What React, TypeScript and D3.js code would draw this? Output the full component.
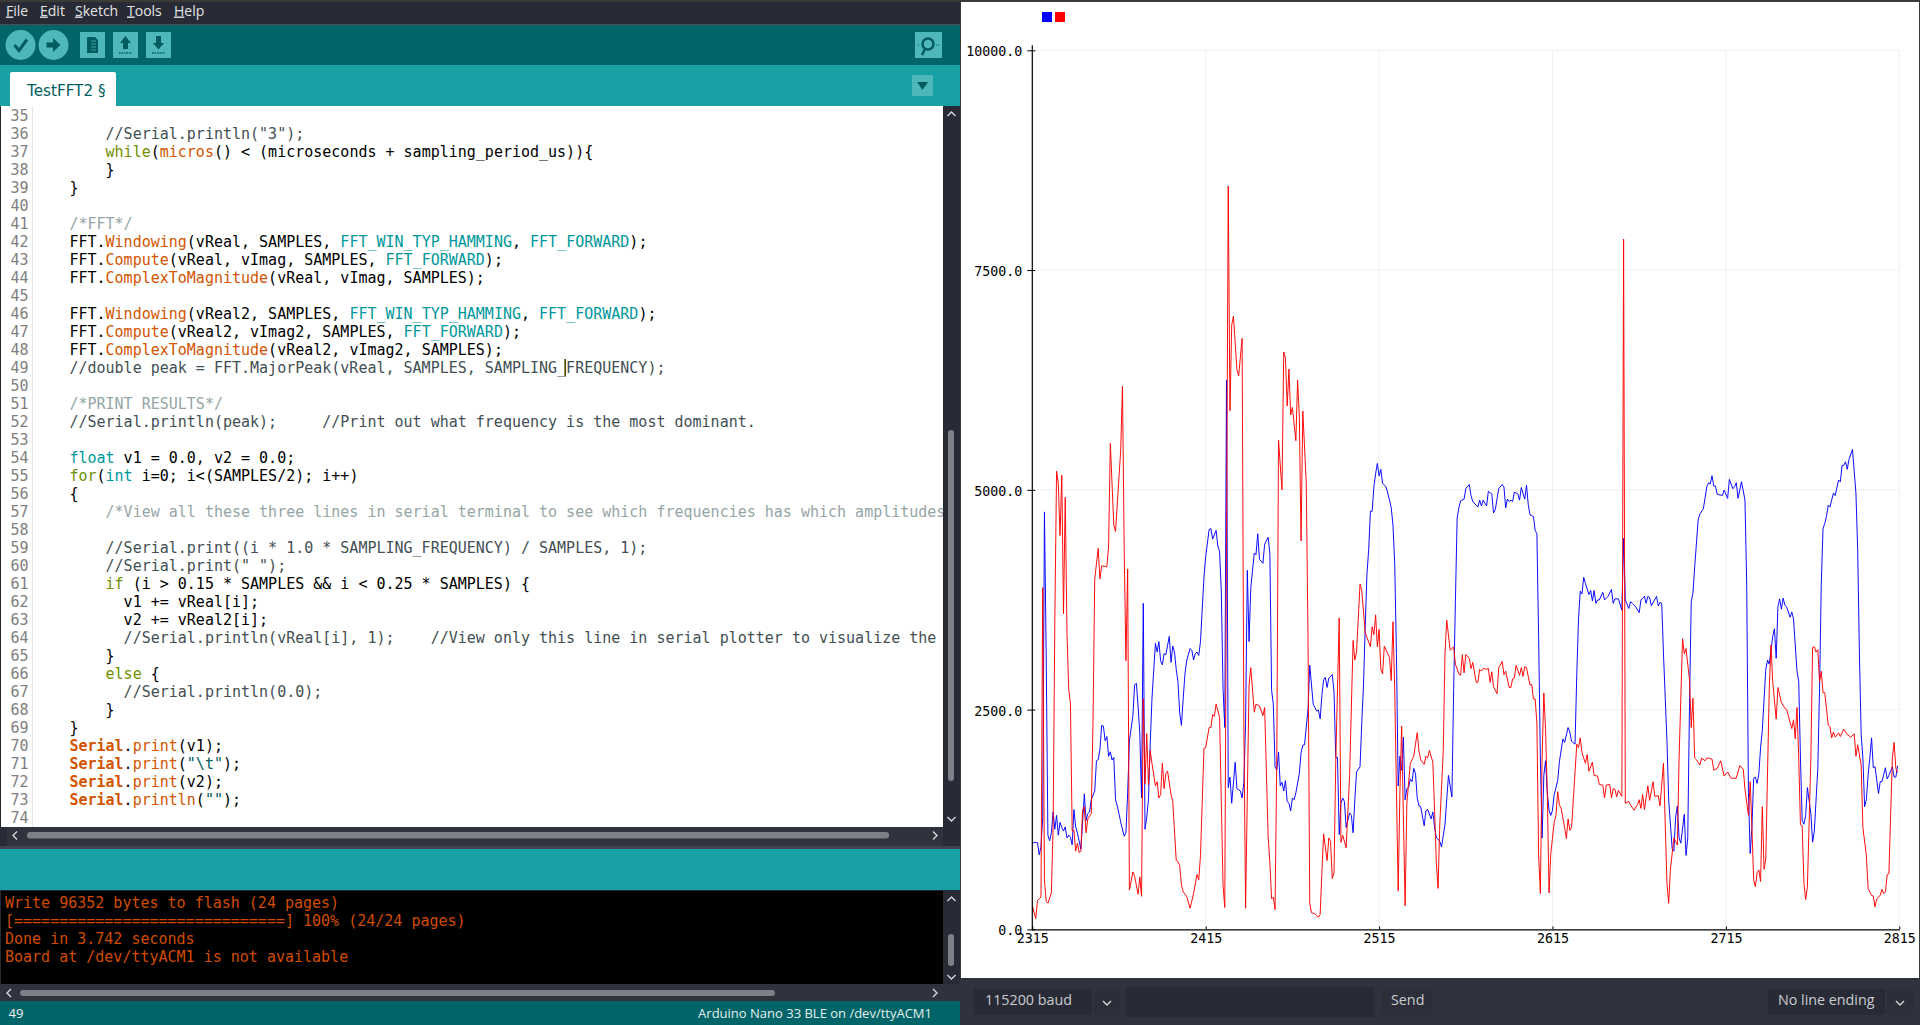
import React, { useEffect, useRef } from 'react'
import * as d3 from 'd3'

type Sample = [number, number]

const xTicks = [2315, 2415, 2515, 2615, 2715, 2815]
const yTicks = [0, 2500, 5000, 7500, 10000]
const seriesColors = ['#0000ff', '#ff0000']

// [sample number, value]
const blueSeries: Sample[] = [
  [2315,970],[2316,992],[2318,985],[2319,850],[2320,941],[2321,1277],[2322,4749],[2323,3136],[2324,1072],[2325,1008],
  [2326,1099],[2327,1336],[2328,1139],[2329,1297],[2330,1072],[2331,1218],[2332,1159],[2333,1119],[2334,1166],[2335,1040],
  [2336,1072],[2337,1048],[2338,961],[2339,1364],[2340,1166],[2341,1099],[2343,913],[2344,1218],[2345,1542],[2346,1238],
  [2347,1317],[2348,1336],[2349,1475],[2351,1574],[2352,1918],[2353,1930],[2354,2048],[2355,2321],[2356,2313],[2357,2147],
  [2358,2194],[2359,1969],[2360,2020],[2361,1926],[2362,1957],[2363,1475],[2364,1404],[2365,1317],[2366,1218],[2368,1060],
  [2369,1099],[2370,1554],[2371,2147],[2373,2424],[2374,2780],[2375,2800],[2376,2542],[2377,2226],[2378,1495],[2379,3709],
  [2380,1139],[2381,1277],[2382,1475],[2383,2107],[2384,2622],[2385,2938],[2386,3254],[2387,3155],[2388,3274],[2389,3056],
  [2390,3009],[2391,3136],[2392,3124],[2394,3333],[2395,3037],[2396,3223],[2397,3155],[2398,2958],[2399,2819],[2400,2463],
  [2401,2321],[2402,2622],[2403,2898],[2404,3056],[2406,3195],[2407,3175],[2408,3064],[2409,3136],[2410,3155],[2411,3116],
  [2412,3274],[2414,4005],[2415,4243],[2417,4551],[2418,4559],[2419,4440],[2421,4539],[2422,4361],[2423,4302],[2424,3847],
  [2425,2740],[2426,2297],[2427,6250],[2428,1613],[2429,1732],[2430,1435],[2432,1902],[2433,1601],[2435,1574],[2436,1495],
  [2437,1673],[2438,2345],[2439,4085],[2440,3274],[2441,3887],[2443,4282],[2444,4262],[2445,4500],[2446,4211],[2448,4164],
  [2449,4381],[2451,4460],[2452,4282],[2453,2720],[2454,2562],[2455,1850],[2456,1811],[2457,2017],[2458,1633],[2459,1673],
  [2460,1574],[2461,1692],[2462,1455],[2463,1435],[2464,1348],[2465,1495],[2466,1475],[2467,1554],[2469,1771],[2470,2009],
  [2471,2096],[2472,2100],[2474,2503],[2475,3005],[2477,2562],[2479,2483],[2480,2495],[2481,2396],[2482,2661],[2483,2839],
  [2484,2867],[2485,2752],[2486,2859],[2488,2898],[2489,2701],[2490,1957],[2491,1957],[2492,1079],[2493,1435],[2494,1495],
  [2495,1455],[2496,1159],[2498,1325],[2499,1297],[2500,1099],[2501,1475],[2502,1791],[2504,1850],[2505,2345],[2506,2780],
  [2507,3452],[2508,4045],[2509,4322],[2510,4757],[2511,4757],[2512,5036],[2513,5187],[2514,5301],[2515,5157],[2516,5233],
  [2517,5074],[2519,5036],[2521,4884],[2522,4796],[2523,4598],[2524,4164],[2525,3136],[2526,1633],[2527,1969],[2528,1811],
  [2529,2187],[2530,1475],[2531,1601],[2532,1613],[2533,1712],[2534,1680],[2535,1831],[2536,1771],[2537,1495],[2538,1404],
  [2539,1396],[2541,1178],[2542,1348],[2543,1364],[2545,1257],[2546,1336],[2547,1159],[2548,1048],[2550,1000],[2551,937],
  [2553,1198],[2554,1475],[2555,1752],[2557,1506],[2558,2740],[2559,3729],[2560,4678],[2561,4796],[2562,4875],[2564,4895],
  [2565,5014],[2567,5061],[2568,4935],[2569,4867],[2572,4804],[2573,4883],[2574,4816],[2575,4883],[2577,4816],[2578,4982],
  [2580,4954],[2581,4737],[2582,4776],[2584,5014],[2586,5061],[2587,5033],[2588,4796],[2589,4895],[2590,4867],[2591,4883],
  [2592,4867],[2593,4974],[2595,4954],[2596,4883],[2597,5026],[2599,4895],[2600,5053],[2601,4836],[2602,4717],[2604,4697],
  [2605,4539],[2606,4500],[2607,3333],[2608,1949],[2609,1040],[2610,1752],[2611,1918],[2612,1554],[2613,1356],[2614,1297],
  [2615,1356],[2616,1534],[2618,1692],[2619,1910],[2621,2167],[2622,2127],[2624,2297],[2625,2246],[2626,2139],[2628,2107],
  [2629,2898],[2630,3531],[2631,3847],[2632,3816],[2633,4005],[2634,3934],[2636,3808],[2637,3855],[2638,3737],[2639,3855],
  [2640,3709],[2641,3748],[2642,3748],[2644,3835],[2645,3748],[2647,3788],[2649,3867],[2650,3709],[2651,3760],[2653,3760],
  [2655,3630],[2656,4448],[2657,3748],[2659,3650],[2660,3729],[2661,3709],[2663,3669],[2665,3602],[2666,3748],[2668,3788],
  [2669,3709],[2670,3788],[2671,3776],[2672,3681],[2675,3788],[2676,3681],[2677,3721],[2678,3709],[2679,3136],[2681,2147],
  [2682,1475],[2684,921],[2685,890],[2686,1277],[2687,1404],[2688,1040],[2689,981],[2691,1309],[2692,842],[2693,1040],
  [2694,2542],[2695,3729],[2696,3827],[2697,4124],[2699,4658],[2700,4725],[2702,4784],[2704,5036],[2705,5081],[2706,5066],
  [2707,5161],[2708,5043],[2709,5043],[2710,4948],[2713,4937],[2714,4998],[2716,4903],[2717,5119],[2719,5013],[2720,5036],
  [2721,5081],[2722,4903],[2724,5092],[2726,4884],[2727,3926],[2728,1554],[2729,862],[2730,1159],[2731,1720],[2732,1732],
  [2733,1661],[2734,1771],[2735,2068],[2736,2266],[2738,2958],[2739,3064],[2740,3017],[2742,3333],[2743,3420],[2744,3084],
  [2745,3669],[2746,3760],[2747,3642],[2748,3768],[2749,3689],[2750,3669],[2752,3551],[2753,3610],[2754,3531],[2756,2938],
  [2757,2819],[2758,1949],[2759,1238],[2760,1198],[2761,1297],[2762,1613],[2764,1317],[2765,992],[2766,1119],[2768,1831],
  [2769,2740],[2770,3926],[2771,4559],[2772,4618],[2773,4697],[2774,4824],[2775,4804],[2776,4883],[2777,4962],[2778,4935],
  [2780,5112],[2781,5092],[2782,5278],[2783,5278],[2784,5320],[2785,5233],[2786,5347],[2788,5460],[2790,4960],[2791,4322],
  [2792,3136],[2793,2226],[2794,1949],[2795,1396],[2796,1475],[2797,1752],[2798,1949],[2799,2179],[2800,1839],[2801,1850],
  [2803,1546],[2804,1680],[2805,1680],[2807,1839],[2808,1712],[2809,1752],[2811,1850],[2812,1732],[2813,1732],[2814,1862],
]

const redSeries: Sample[] = [
  [2315,269],[2317,123],[2318,328],[2320,368],[2321,3887],[2322,565],[2323,320],[2324,297],[2326,415],[2327,1159],
  [2328,3531],[2329,5214],[2330,5074],[2331,4480],[2332,5168],[2333,3590],[2334,4915],[2335,3373],[2336,2740],[2337,2562],
  [2338,1119],[2339,1127],[2340,890],[2341,981],[2342,874],[2343,890],[2344,1356],[2345,1396],[2346,1099],[2347,1257],
  [2349,1317],[2350,2345],[2351,3986],[2353,4334],[2354,3986],[2355,4136],[2358,4124],[2359,4361],[2360,5529],[2362,4598],
  [2363,4527],[2366,5453],[2367,6181],[2368,4322],[2369,3056],[2370,4100],[2371,447],[2373,652],[2374,605],[2376,399],
  [2377,597],[2378,376],[2379,2622],[2380,1653],[2381,2226],[2382,1641],[2383,2036],[2384,1890],[2386,1633],[2387,1680],
  [2388,1495],[2389,1534],[2390,1890],[2391,1601],[2392,1771],[2393,1799],[2395,1534],[2396,1455],[2398,783],[2399,771],
  [2400,724],[2401,506],[2402,427],[2404,376],[2406,241],[2408,407],[2410,625],[2411,565],[2412,842],[2414,2060],
  [2415,2068],[2417,2297],[2418,2297],[2419,2444],[2420,2424],[2421,2562],[2423,2412],[2425,506],[2426,249],[2428,8456],
  [2429,5900],[2430,6875],[2431,6977],[2433,6370],[2434,6295],[2436,6723],[2437,2345],[2438,241],[2440,2780],[2441,2977],
  [2443,2471],[2444,2562],[2446,2542],[2448,2432],[2449,2523],[2451,1060],[2452,763],[2453,348],[2454,368],[2455,225],
  [2456,1949],[2457,5567],[2459,5000],[2460,6568],[2461,6496],[2462,5953],[2463,6374],[2464,5851],[2465,5938],[2467,5559],
  [2468,6249],[2469,5832],[2470,4420],[2471,5896],[2473,5074],[2474,3333],[2475,297],[2476,190],[2478,178],[2480,138],
  [2481,170],[2482,645],[2483,1087],[2485,783],[2486,1040],[2487,1000],[2488,577],[2489,645],[2490,1910],[2492,3543],
  [2493,989],[2494,1072],[2496,929],[2498,1752],[2500,3286],[2501,3064],[2502,3155],[2504,3926],[2505,3855],[2507,3373],
  [2510,3215],[2511,3444],[2512,3353],[2513,3578],[2514,3215],[2515,3412],[2516,2958],[2517,2906],[2518,3223],[2520,3136],
  [2521,3096],[2522,2831],[2523,3499],[2524,2740],[2526,439],[2527,1554],[2528,2313],[2530,269],[2531,1435],[2533,1890],
  [2535,1969],[2536,2107],[2537,2238],[2538,2028],[2539,1930],[2541,1878],[2542,1969],[2543,1949],[2544,2036],[2546,1902],
  [2547,1356],[2548,763],[2549,467],[2550,1198],[2552,2028],[2553,3136],[2554,3519],[2556,3175],[2558,3215],[2559,3017],
  [2561,2906],[2562,2890],[2563,3124],[2564,2918],[2565,3128],[2567,3084],[2568,2966],[2569,3037],[2571,2811],[2572,2811],
  [2573,2958],[2574,2938],[2575,2969],[2577,2958],[2578,2969],[2579,2811],[2580,2930],[2581,2760],[2583,2681],[2584,2977],
  [2586,3049],[2587,2898],[2588,2938],[2590,2752],[2591,2752],[2592,2851],[2593,2859],[2594,3005],[2596,2890],[2597,2977],
  [2598,2878],[2599,2989],[2600,2977],[2602,2780],[2603,2788],[2604,2622],[2605,2622],[2606,2345],[2607,842],[2608,407],
  [2609,1949],[2610,2689],[2611,2266],[2612,1554],[2613,415],[2614,862],[2616,1218],[2617,1297],[2618,1566],[2619,1416],
  [2620,1376],[2622,1159],[2623,1032],[2624,1257],[2625,1127],[2626,1159],[2627,1475],[2629,2107],[2630,2068],[2631,2179],
  [2632,2009],[2634,1890],[2635,1989],[2636,1799],[2638,1902],[2639,1752],[2641,1744],[2642,1649],[2644,1641],[2645,1495],
  [2646,1641],[2648,1649],[2649,1495],[2650,1601],[2651,1593],[2652,1506],[2653,1582],[2655,1514],[2656,7853],[2657,1435],
  [2659,1455],[2660,1416],[2662,1356],[2664,1416],[2665,1475],[2666,1376],[2667,1534],[2668,1364],[2670,1633],[2671,1467],
  [2673,1680],[2674,1514],[2676,1522],[2677,1404],[2679,1890],[2681,526],[2682,297],[2683,684],[2685,1040],[2686,1000],
  [2687,961],[2688,1949],[2690,3306],[2691,3136],[2692,3195],[2694,2839],[2695,2297],[2696,2629],[2697,1949],[2698,1930],
  [2700,1870],[2701,1949],[2703,1918],[2704,1949],[2705,1949],[2707,1937],[2708,1811],[2710,1831],[2712,1918],[2714,1744],
  [2716,1791],[2718,1720],[2721,1720],[2723,1862],[2725,1823],[2726,1593],[2728,1297],[2729,1680],[2730,1159],[2731,565],
  [2732,486],[2733,645],[2734,676],[2735,546],[2736,1396],[2737,684],[2738,803],[2740,2740],[2741,3234],[2742,2819],
  [2744,2392],[2745,2752],[2747,2582],[2749,2515],[2750,2503],[2753,2285],[2754,2384],[2755,2167],[2756,2523],[2757,1949],
  [2758,1190],[2759,1178],[2760,526],[2761,340],[2762,486],[2764,1949],[2765,3207],[2766,3215],[2767,3155],[2768,3183],
  [2769,2819],[2770,2938],[2771,2693],[2772,2693],[2774,2325],[2775,2305],[2776,2179],[2777,2246],[2778,2187],[2780,2234],
  [2781,2194],[2783,2278],[2785,2218],[2787,2187],[2789,2226],[2790,1969],[2791,2100],[2793,1870],[2794,1159],[2796,842],
  [2797,467],[2799,387],[2800,380],[2801,257],[2802,348],[2804,387],[2805,455],[2806,407],[2807,427],[2808,625],
  [2809,633],[2811,1949],[2812,2127],[2813,1831],[2814,1783],
]

const C = { text: '#000000', fn: '#d35400', kw: '#728e00', lit: '#00979c', dim: '#95a5a6', cm: '#434f54', str: '#005c5f' }
type Seg = [string, string, boolean?]

// sketch text, first listed line is number 35
const codeLines: Seg[][] = [
  [],
  [['        //Serial.println("3");', C.cm]],
  [['        ', C.text], ['while', C.kw], ['(', C.text], ['micros', C.fn], ['() < (microseconds + sampling_period_us)){', C.text]],
  [['        }', C.text]],
  [['    }', C.text]],
  [],
  [['    /*FFT*/', C.dim]],
  [['    FFT.', C.text], ['Windowing', C.fn], ['(vReal, SAMPLES, ', C.text], ['FFT_WIN_TYP_HAMMING', C.lit], [', ', C.text], ['FFT_FORWARD', C.lit], [');', C.text]],
  [['    FFT.', C.text], ['Compute', C.fn], ['(vReal, vImag, SAMPLES, ', C.text], ['FFT_FORWARD', C.lit], [');', C.text]],
  [['    FFT.', C.text], ['ComplexToMagnitude', C.fn], ['(vReal, vImag, SAMPLES);', C.text]],
  [],
  [['    FFT.', C.text], ['Windowing', C.fn], ['(vReal2, SAMPLES, ', C.text], ['FFT_WIN_TYP_HAMMING', C.lit], [', ', C.text], ['FFT_FORWARD', C.lit], [');', C.text]],
  [['    FFT.', C.text], ['Compute', C.fn], ['(vReal2, vImag2, SAMPLES, ', C.text], ['FFT_FORWARD', C.lit], [');', C.text]],
  [['    FFT.', C.text], ['ComplexToMagnitude', C.fn], ['(vReal2, vImag2, SAMPLES);', C.text]],
  [['    //double peak = FFT.MajorPeak(vReal, SAMPLES, SAMPLING_FREQUENCY);', C.cm]],
  [],
  [['    /*PRINT RESULTS*/', C.dim]],
  [['    //Serial.println(peak);     //Print out what frequency is the most dominant.', C.cm]],
  [],
  [['    ', C.text], ['float', C.lit], [' v1 = 0.0, v2 = 0.0;', C.text]],
  [['    ', C.text], ['for', C.kw], ['(', C.text], ['int', C.lit], [' i=0; i<(SAMPLES/2); i++)', C.text]],
  [['    {', C.text]],
  [['        /*View all these three lines in serial terminal to see which frequencies has which amplitudes', C.dim]],
  [],
  [['        //Serial.print((i * 1.0 * SAMPLING_FREQUENCY) / SAMPLES, 1);', C.cm]],
  [['        //Serial.print(" ");', C.cm]],
  [['        ', C.text], ['if', C.kw], [' (i > 0.15 * SAMPLES && i < 0.25 * SAMPLES) {', C.text]],
  [['          v1 += vReal[i];', C.text]],
  [['          v2 += vReal2[i];', C.text]],
  [['          //Serial.println(vReal[i], 1);    //View only this line in serial plotter to visualize the', C.cm]],
  [['        }', C.text]],
  [['        ', C.text], ['else', C.kw], [' {', C.text]],
  [['          //Serial.println(0.0);', C.cm]],
  [['        }', C.text]],
  [['    }', C.text]],
  [['    ', C.text], ['Serial', C.fn, true], ['.', C.text], ['print', C.fn], ['(v1);', C.text]],
  [['    ', C.text], ['Serial', C.fn, true], ['.', C.text], ['print', C.fn], ['(', C.text], ['"\\t"', C.str], [');', C.text]],
  [['    ', C.text], ['Serial', C.fn, true], ['.', C.text], ['print', C.fn], ['(v2);', C.text]],
  [['    ', C.text], ['Serial', C.fn, true], ['.', C.text], ['println', C.fn], ['(', C.text], ['""', C.str], [');', C.text]],
  [],
]

const consoleLines = [
  'Write 96352 bytes to flash (24 pages)',
  '[==============================] 100% (24/24 pages)',
  'Done in 3.742 seconds',
  'Board at /dev/ttyACM1 is not available',
]

const menuItems: [string, number][] = [['File', 6], ['Edit', 40], ['Sketch', 75], ['Tools', 127], ['Help', 174]]

const MONO = '"DejaVu Sans Mono", monospace'
const UI = '"Open Sans", "Noto Sans", sans-serif'
const DARK = '#282b35'
const PANEL = '#30333d'
const TEAL_D = '#006468'
const TEAL = '#17a1a5'
const BTN = '#4db7ba'
const ICON = '#005c5f'
const THUMB = '#7e8087'
const CHEVRON = '#d5d7da'

function Chevron({ x, y, dir }: { x: number; y: number; dir: 'u' | 'd' | 'l' | 'r' }) {
  const rot = { u: 180, d: 0, l: 90, r: -90 }[dir]
  return <path d="M-4,-2 L0,2 L4,-2" transform={`translate(${x},${y}) rotate(${rot})`} fill="none" stroke={CHEVRON} strokeWidth={1.4} />
}

export default function App() {
  const plotRef = useRef<SVGGElement | null>(null)

  useEffect(() => {
    document.body.style.margin = '0'
    document.body.style.overflow = 'hidden'

    const g = d3.select(plotRef.current!)
    g.selectAll('*').remove()

    const x = d3.scaleLinear().domain([2315, 2815]).range([1032.3, 1899.3])
    const y = d3.scaleLinear().domain([0, 10000]).range([929.4, 50.3])

    const grid = g.append('g').attr('stroke', '#efefef').attr('stroke-width', 1)
    grid.selectAll('line.h').data(yTicks.slice(1)).enter().append('line').attr('class', 'h')
      .attr('x1', x(2315)).attr('x2', x(2815)).attr('y1', d => y(d)).attr('y2', d => y(d))
    grid.selectAll('line.v').data(xTicks.slice(1)).enter().append('line').attr('class', 'v')
      .attr('x1', d => x(d)).attr('x2', d => x(d)).attr('y1', y(0)).attr('y2', y(10000))

    const line = d3.line<Sample>().x(d => x(d[0])).y(d => y(d[1]))
    const series = [blueSeries, redSeries]
    series.forEach((s, i) => {
      g.append('path').datum(s).attr('d', line).attr('fill', 'none')
        .attr('stroke', seriesColors[i]).attr('stroke-width', 0.95).attr('stroke-linejoin', 'miter')
    })

    const yAxis = g.append('g').attr('transform', `translate(${x(2315)},0)`)
      .call(d3.axisLeft(y).tickValues(yTicks).tickFormat(d3.format('.1f')).tickSizeOuter(0).tickPadding(10))
    yAxis.select('.domain').remove()
    yAxis.selectAll('.tick line').attr('x1', -5).attr('x2', 3).attr('stroke', '#000')
    yAxis.selectAll('.tick text').attr('dy', '5.5').attr('x', -10)
    yAxis.append('line').attr('x1', 0).attr('x2', 0).attr('y1', y(10000) - 5).attr('y2', y(0) + 1)
      .attr('stroke', '#000').attr('stroke-width', 1.2)

    const xAxis = g.append('g').attr('transform', `translate(0,${y(0)})`)
      .call(d3.axisBottom(x).tickValues(xTicks).tickFormat(d3.format('d')).tickSizeOuter(0))
    xAxis.select('.domain').attr('stroke', '#000').attr('stroke-width', 1.2)
    xAxis.selectAll('.tick line').attr('y1', -3).attr('y2', 0).attr('stroke', '#000')
    xAxis.selectAll('.tick text').attr('dy', 0).attr('y', 14)

    g.selectAll('.tick text')
      .attr('font-family', MONO).attr('font-size', 13.3).attr('fill', '#000')

    const legend = g.append('g')
    legend.selectAll('rect').data(seriesColors).enter().append('rect')
      .attr('x', (_, i) => 1042 + i * 13).attr('y', 12).attr('width', 10).attr('height', 10)
      .attr('fill', d => d)
  }, [])

  return (
    <svg width={1920} height={1025} viewBox="0 0 1920 1025" style={{ display: 'block' }}>
      <defs>
        <clipPath id="editor-clip"><rect x={33} y={106} width={910} height={721} /></clipPath>
      </defs>
      <rect x={0} y={0} width={1920} height={1025} fill={DARK} />

      {/* IDE window */}
      <rect x={0} y={0} width={960} height={2} fill="#3b3c35" />
      <rect x={0} y={24} width={960} height={1} fill="#4a4d55" />
      {menuItems.map(([label, mx]) => (
        <text key={label} x={mx} y={15.5} fontFamily={UI} fontSize={14} fill="#e4e5e7">
          <tspan textDecoration="underline">{label[0]}</tspan>{label.slice(1)}
        </text>
      ))}
      <rect x={0} y={25} width={960} height={40} fill={TEAL_D} />
      <rect x={0} y={65} width={960} height={41} fill={TEAL} />

      <circle cx={20.5} cy={45} r={15} fill={BTN} />
      <path d="M14.5,45 L19,50.5 L27,39.5" fill="none" stroke={ICON} strokeWidth={3} />
      <circle cx={53.5} cy={45} r={15} fill={BTN} />
      <path d="M46.5,42.5 H53 V38 L60.5,45 L53,52 V47.5 H46.5 Z" fill={ICON} />
      <rect x={80} y={32} width={25} height={26} fill={BTN} />
      <path d="M87,37 H95 L98,40 V53 H87 Z" fill={ICON} />
      <path d="M91,41 H96 M91,44 H96 M91,47 H96 M91,50 H96" stroke={BTN} strokeWidth={0.8} />
      <rect x={113} y={32} width={25} height={26} fill={BTN} />
      <path d="M125.5,36 L131,43 H128 V49 H123 V43 H120 Z" fill={ICON} />
      <path d="M119,53 H132" stroke={ICON} strokeWidth={1.5} strokeDasharray="1.5 1" />
      <rect x={146} y={32} width={25} height={26} fill={BTN} />
      <path d="M158.5,49.5 L153,43 H156 V36 H161 V43 H164 Z" fill={ICON} />
      <path d="M152,53 H165" stroke={ICON} strokeWidth={1.5} strokeDasharray="1.5 1" />
      <rect x={915} y={32} width={27} height={26} fill={BTN} />
      <circle cx={928} cy={44} r={5.5} fill="none" stroke={ICON} strokeWidth={2.5} />
      <path d="M925,49 L922,55" stroke={ICON} strokeWidth={2.5} />
      <path d="M918,45 H920 M936,45 H940" stroke={ICON} strokeWidth={1} strokeDasharray="1 1" />

      <path d="M10,106 V74 Q10,72 12,72 H114 Q116,72 116,74 V106 Z" fill="#ffffff" />
      <text x={27} y={96} fontFamily='"DejaVu Sans", sans-serif' fontSize={15.2} fill={ICON}>TestFFT2 §</text>
      <rect x={912} y={75} width={21} height={21} fill={BTN} />
      <path d="M917,82 H928 L922.5,90 Z" fill={ICON} />

      {/* editor */}
      <rect x={1} y={106} width={942} height={721} fill="#ffffff" />
      <rect x={32} y={106} width={1} height={721} fill="#e5e5e5" />
      {codeLines.map((_, i) => (
        <text key={i} x={10.4} y={121 + 18 * i} fontFamily={MONO} fontSize={15} fill="#808080">{35 + i}</text>
      ))}
      <g clipPath="url(#editor-clip)">
        {codeLines.map((segs, i) => (
          <text key={i} x={33.3} y={121 + 18 * i} fontFamily={MONO} fontSize={15} style={{ whiteSpace: 'pre' }}>
            {segs.map((s, j) => (
              <tspan key={j} fill={s[1]} fontWeight={s[2] ? 700 : 400}>{s[0]}</tspan>
            ))}
          </text>
        ))}
        <rect x={564.4} y={359} width={1.6} height={17} fill="#4d4300" />
      </g>

      {/* editor scrollbars */}
      <rect x={943} y={106} width={17} height={741} fill={DARK} />
      <rect x={948} y={430} width={6} height={351} rx={3} fill={THUMB} />
      <Chevron x={951.5} y={114} dir="u" />
      <Chevron x={951.5} y={819} dir="d" />
      <rect x={7} y={827} width={936} height={19} fill={PANEL} />
      <rect x={27} y={832} width={862} height={6.5} rx={3} fill={THUMB} />
      <Chevron x={15} y={835.5} dir="l" />
      <Chevron x={935} y={835.5} dir="r" />
      <rect x={0} y={846} width={960} height={3} fill="#41444e" />

      {/* console */}
      <rect x={0} y={849} width={960} height={41} fill={TEAL} />
      <rect x={1} y={891} width={942} height={93} fill="#000000" />
      <rect x={943} y={891} width={17} height={93} fill={DARK} />
      <rect x={948} y={934} width={6} height={32} rx={3} fill={THUMB} />
      <Chevron x={951.5} y={899} dir="u" />
      <Chevron x={951.5} y={977} dir="d" />
      {consoleLines.map((l, i) => (
        <text key={i} x={5} y={907.5 + 18 * i} fontFamily={MONO} fontSize={15} fill="#cf4c00" style={{ whiteSpace: 'pre' }}>{l}</text>
      ))}
      <rect x={0} y={984} width={960} height={17} fill={PANEL} />
      <rect x={20} y={990} width={755} height={6} rx={3} fill={THUMB} />
      <Chevron x={9} y={993} dir="l" />
      <Chevron x={935} y={993} dir="r" />
      <rect x={0} y={1001} width={960} height={24} fill={TEAL_D} />
      <text x={8.6} y={1018} fontFamily={UI} fontSize={13} fill="#f0f4f4">49</text>
      <text x={932} y={1018} textAnchor="end" fontFamily={UI} fontSize={13} fill="#e4eeee">Arduino Nano 33 BLE on /dev/ttyACM1</text>

      {/* serial plotter window */}
      <rect x={960} y={0} width={960} height={2} fill="#3b3c35" />
      <rect x={960} y={2} width={1} height={976} fill="#3b3c35" />
      <rect x={961} y={2} width={958} height={976} fill="#ffffff" />
      <rect x={1919} y={2} width={1} height={976} fill="#3b3c35" />
      <g ref={plotRef} />

      <rect x={960} y={978} width={960} height={47} fill={PANEL} />
      <rect x={974} y={989} width={118} height={26} fill={DARK} />
      <text x={985} y={1005} fontFamily={UI} fontSize={14.3} fill="#c8cbd0">115200 baud</text>
      <rect x={1094} y={989} width={26} height={26} fill="#2c2f39" />
      <Chevron x={1107} y={1003} dir="d" />
      <rect x={1126} y={987} width={248} height={30} fill={DARK} />
      <rect x={1381} y={989} width={51} height={26} fill="#2c2f39" />
      <text x={1391} y={1005} fontFamily={UI} fontSize={14.3} fill="#c8cbd0">Send</text>
      <rect x={1768} y={989} width={117} height={26} fill={DARK} />
      <text x={1778} y={1005} fontFamily={UI} fontSize={14.3} fill="#c8cbd0">No line ending</text>
      <rect x={1887} y={989} width={26} height={26} fill="#2c2f39" />
      <Chevron x={1900} y={1003} dir="d" />
    </svg>
  )
}
